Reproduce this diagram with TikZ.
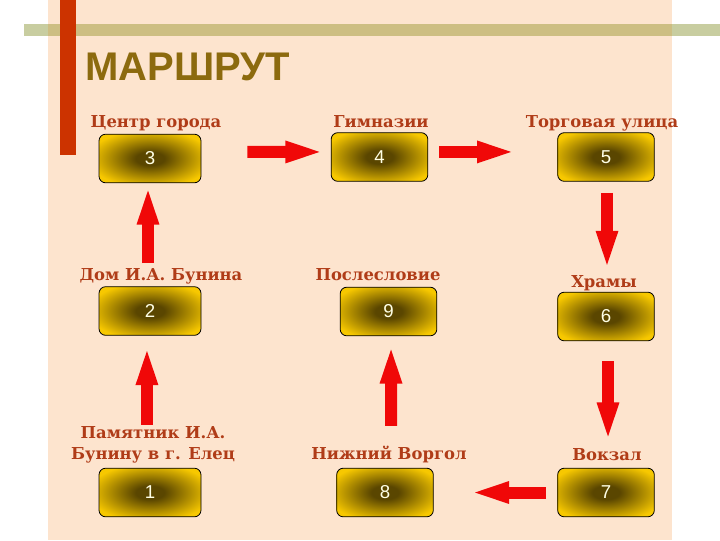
\documentclass[tikz,border=0pt]{standalone}
\usepackage{fontspec}
\setmainfont{DejaVu Serif}
\newfontfamily\headfont{Liberation Sans}
\usetikzlibrary{math,arrows.meta}
\definecolor{peach}{HTML}{FDE4CE}
\definecolor{barwhite}{HTML}{C8CDA0}
\definecolor{barpeach}{HTML}{CDBE82}
\definecolor{redbar}{HTML}{CC3300}
\definecolor{titlebrown}{HTML}{8C6A0E}
\definecolor{labelbrown}{HTML}{B03C18}
\definecolor{glowgold}{HTML}{F7C800}
\definecolor{glowdark}{HTML}{5A4600}
\definecolor{digitcolor}{HTML}{FFFFE6}
\definecolor{arrowred}{HTML}{F00808}
\pgfdeclareradialshading{stopglow}{\pgfpointorigin}{%
  color(0bp)=(glowdark); color(7bp)=(glowdark);
  color(30bp)=(glowgold); color(50bp)=(glowgold)}
\tikzset{
  stopbox/.style = {draw, line width=0.6pt, rounded corners=5pt,
    shade, shading=stopglow, minimum width=#1, minimum height=36.5pt,
    inner sep=0pt, text=digitcolor,
    font=\headfont\fontsize{14}{14}\selectfont},
  stopbox/.default = 72.5pt,
  stoplabel/.style = {anchor=base, inner sep=0pt, text=labelbrown,
    font=\bfseries\fontsize{12.3}{15.75}\selectfont},
  flow/.style = {draw=arrowred, line width=9pt,
    -{Triangle[length=31pt, width=14pt]}}
}

\begin{document}
\begin{tikzpicture}[x=0.75pt, y=-0.75pt]
    \useasboundingbox (0,0) rectangle (720,540);
    % slide background
    \fill[white] (0,0) rectangle (720,540);
    \fill[peach] (48,0) rectangle (672,540);
    \fill[barwhite] (24,24) rectangle (48,36);
    \fill[barwhite] (672,24) rectangle (720,36);
    \fill[barpeach] (48,24) rectangle (672,36);
    \fill[redbar] (60,0) rectangle (76,155);
    \node[anchor=base west, inner sep=0pt, text=titlebrown,
      font=\headfont\bfseries\fontsize{30}{30}\selectfont]
      (title) at (85,80) {МАРШРУТ};
    % stops
    \node[stopbox=76.5pt] (b3) at (150,158.5) {3};
    \node[stopbox] (b4) at (379.5,157) {4};
    \node[stopbox] (b5) at (606,157) {5};
    \node[stopbox=76.5pt] (b2) at (150,311) {2};
    \node[stopbox] (b9) at (388.5,311.5) {9};
    \node[stopbox] (b6) at (606,316.5) {6};
    \node[stopbox=76.5pt] (b1) at (150,492.5) {1};
    \node[stopbox] (b8) at (385,492.5) {8};
    \node[stopbox] (b7) at (606,492.5) {7};
    % names
    \node[stoplabel] (l3) at (156,127) {Центр города};
    \node[stoplabel] (l4) at (381,127) {Гимназии};
    \node[stoplabel] (l5) at (602,127) {Торговая улица};
    \node[stoplabel] (l2) at (161,280) {Дом И.А. Бунина};
    \node[stoplabel] (l9) at (378,280) {Послесловие};
    \node[stoplabel] (l6) at (604,287) {Храмы};
    \node[stoplabel, anchor=center, align=center]
      (l1) at (153,445) {Памятник И.А.\\Бунину в г. Елец};
    \node[stoplabel] (l8) at (389,459) {Нижний Воргол};
    \node[stoplabel] (l7) at (607,460) {Вокзал};
    % route
    \draw[flow] ([shift={(-2.3pt,32.3pt)}]b1.north)
      -- ([shift={(-2.3pt,-6pt)}]b2.south);
    \draw[flow] ([shift={(-1.5pt,17.3pt)}]b2.north)
      -- ([shift={(-1.5pt,0pt)}]b3.south);
    \draw[flow] ([shift={(34.5pt,4.9pt)}]b3.east)
      -- ([shift={(-3pt,3.8pt)}]b4.west);
    \draw[flow] ([shift={(8.3pt,3.8pt)}]b4.east)
      -- ([shift={(-29.2pt,3.8pt)}]b5.west);
    \draw[flow] ([shift={(0.75pt,-8.3pt)}]b5.south)
      -- ([shift={(0.75pt,14.7pt)}]b6.north);
    \draw[flow] ([shift={(1.5pt,-15pt)}]b6.south)
      -- ([shift={(1.5pt,18pt)}]b7.north);
    \draw[flow] ([shift={(-8.3pt,0pt)}]b7.west)
      -- ([shift={(25.5pt,0pt)}]b8.east);
    \draw[flow] ([shift={(4.5pt,31.5pt)}]b8.north)
      -- ([shift={(1.9pt,-4.5pt)}]b9.south);
  \end{tikzpicture}
\end{document}
